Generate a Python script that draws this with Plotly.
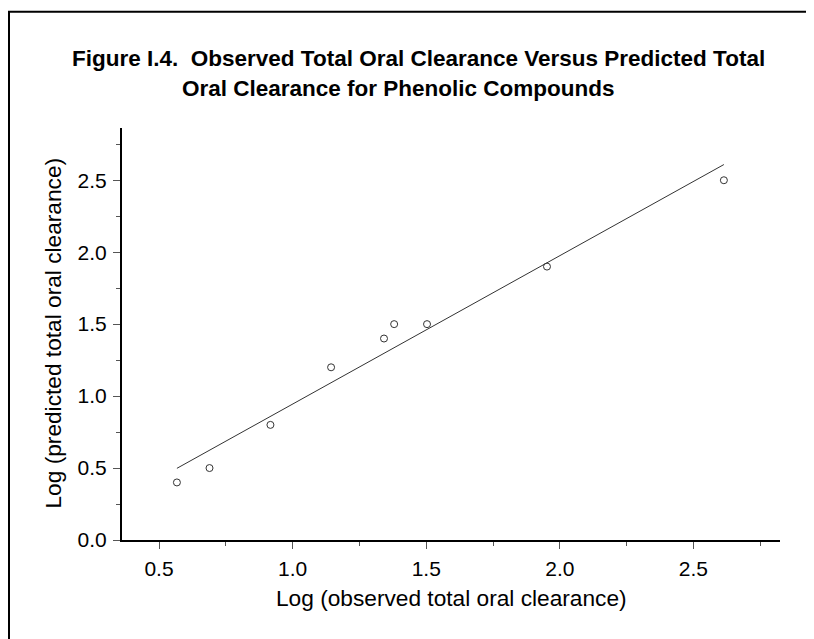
import plotly.graph_objects as go

# Data
obs_log = [0.567, 0.689, 0.917, 1.144, 1.342, 1.380, 1.503, 1.952, 2.614]
pred_log = [0.40, 0.50, 0.80, 1.20, 1.40, 1.50, 1.50, 1.90, 2.50]
fit_x = [0.567, 2.614]
fit_y = [0.498, 2.609]

title_line1 = "Figure I.4.  Observed Total Oral Clearance Versus Predicted Total"
title_line2 = "Oral Clearance for Phenolic Compounds"
x_title = "Log (observed total oral clearance)"
y_title = "Log (predicted total oral clearance)"

W, H = 814, 639
ML, MR, MT, MB = 114, 42, 120, 107
PW, PH = W - ML - MR, H - MT - MB

def px_x(p):
    return (p - ML) / PW

def px_y(p):
    return (H - MB - p) / PH

FONT = "Liberation Sans, Arial, sans-serif"

fig = go.Figure()
fig.add_trace(go.Scatter(x=fit_x, y=fit_y, mode="lines",
                         line=dict(color="#333333", width=1), hoverinfo="skip"))
fig.add_trace(go.Scatter(x=obs_log, y=pred_log, mode="markers",
                         marker=dict(symbol="circle-open", size=7, color="#333333",
                                     line=dict(width=1, color="#333333"))))

axis_common = dict(
    showgrid=False, zeroline=False, showline=True, linecolor="black", linewidth=2,
    ticks="outside", ticklen=7, tickwidth=1, tickcolor="#555555",
    tickfont=dict(family=FONT, size=21, color="black"),
    tickformat=".1f", dtick=0.5,
    minor=dict(ticks="outside", dtick=0.25, ticklen=4, tickwidth=1, tickcolor="#555555"),
)

fig.update_layout(
    width=W, height=H,
    margin=dict(l=ML, r=MR, t=MT, b=MB, autoexpand=False),
    paper_bgcolor="white", plot_bgcolor="white",
    showlegend=False,
    xaxis=dict(range=[0.3615, 2.824], tick0=0.5, ticklabelstandoff=2, **axis_common),
    yaxis=dict(range=[0, 2.863], tick0=0, ticklabelstandoff=2, **axis_common),
    font=dict(family=FONT, color="black"),
)

fig.add_annotation(text="<b>" + title_line1 + "</b>", xref="paper", yref="paper",
                   x=px_x(62), y=px_y(51), xanchor="left", yanchor="middle",
                   showarrow=False, font=dict(family=FONT, size=22.5, color="black"))
fig.add_annotation(text="<b>" + title_line2 + "</b>", xref="paper", yref="paper",
                   x=px_x(172), y=px_y(81), xanchor="left", yanchor="middle",
                   showarrow=False, font=dict(family=FONT, size=22.5, color="black"))
fig.add_annotation(text=x_title, xref="paper", yref="paper",
                   x=px_x(443), y=px_y(590), xanchor="center", yanchor="middle",
                   showarrow=False, font=dict(family=FONT, size=22.7, color="black"))
fig.add_annotation(text=y_title, xref="paper", yref="paper", textangle=-90,
                   x=px_x(44), y=px_y(325.5), xanchor="center", yanchor="middle",
                   showarrow=False, font=dict(family=FONT, size=22.7, color="black"))

# Outer frame (extends past the right and bottom edges as in the reference)
fig.add_shape(type="rect", xref="paper", yref="paper",
              x0=px_x(1), y0=px_y(3.7), x1=px_x(W + 20), y1=px_y(H + 20),
              line=dict(color="black", width=2), fillcolor="rgba(0,0,0,0)", layer="below")

fig.write_html("out.html")
